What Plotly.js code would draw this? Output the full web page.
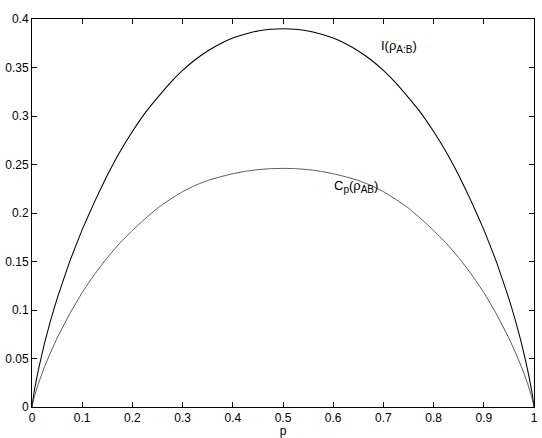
<!DOCTYPE html>
<html>
<head>
<meta charset="utf-8">
<script src="https://cdn.plot.ly/plotly-3.0.1.min.js"></script>
<style>html,body{margin:0;padding:0;background:#fff;}#plot{width:542px;height:438px;}</style>
</head>
<body>
<div id="plot"></div>
<script>
// p values
const pValues = [0, 0.0025, 0.005, 0.0125, 0.025, 0.0375, 0.05, 0.075, 0.1, 0.125, 0.15, 0.175, 0.2, 0.225, 0.25,
                 0.275, 0.3, 0.325, 0.35, 0.375, 0.4, 0.425, 0.45, 0.475, 0.5,
                 0.525, 0.55, 0.575, 0.6, 0.625, 0.65, 0.675, 0.7, 0.725, 0.75, 0.775, 0.8, 0.825, 0.85, 0.875,
                 0.9, 0.925, 0.95, 0.9625, 0.975, 0.9875, 0.995, 0.9975, 1];
// I(rho_A:B)
const mutualInfo = [0, 0.0098, 0.018, 0.0378, 0.0658, 0.090, 0.1117, 0.1499, 0.1829, 0.2120, 0.239, 0.263, 0.284, 0.303, 0.319,
                    0.334, 0.347, 0.358, 0.367, 0.3745, 0.3803, 0.3846, 0.3877, 0.3894, 0.390,
                    0.3894, 0.3877, 0.3846, 0.3803, 0.3745, 0.367, 0.358, 0.347, 0.334, 0.319, 0.303, 0.284, 0.263, 0.239, 0.2120,
                    0.1829, 0.1499, 0.1117, 0.090, 0.0658, 0.0378, 0.018, 0.0098, 0];
// C_p(rho_AB)
const cpValues = [0, 0.0062, 0.011, 0.0238, 0.0415, 0.0568, 0.071, 0.096, 0.118, 0.137, 0.154, 0.169, 0.182, 0.194, 0.205,
                  0.214, 0.222, 0.2285, 0.2335, 0.2373, 0.2405, 0.2430, 0.2447, 0.2457, 0.246,
                  0.2457, 0.2447, 0.2430, 0.2405, 0.2373, 0.2335, 0.2285, 0.222, 0.214, 0.205, 0.194, 0.182, 0.169, 0.154, 0.137,
                  0.118, 0.096, 0.071, 0.0568, 0.0415, 0.0238, 0.011, 0.0062, 0];
const xTicks = [0, 0.1, 0.2, 0.3, 0.4, 0.5, 0.6, 0.7, 0.8, 0.9, 1];
const xTickText = ["0", "0.1", "0.2", "0.3", "0.4", "0.5", "0.6", "0.7", "0.8", "0.9", "1"];
const yTicks = [0, 0.05, 0.1, 0.15, 0.2, 0.25, 0.3, 0.35, 0.4];
const yTickText = ["0", "0.05", "0.1", "0.15", "0.2", "0.25", "0.3", "0.35", "0.4"];
const labelI = "I(ρ<sub><span style=\"font-size:10px\">A:B</span></sub>)";
const labelC = "C<sub><span style=\"font-size:10px\">p</span></sub>(ρ<sub><span style=\"font-size:10px\">AB</span></sub>)";

const font = {family: "Liberation Sans, Arial, sans-serif", size: 12, color: "#000"};
const annFont = {family: "Liberation Sans, Arial, sans-serif", size: 13, color: "#000"};
const traces = [
  {x: pValues, y: mutualInfo, mode: "lines", line: {color: "#000", width: 1.05, shape: "spline", smoothing: 0.3}, hoverinfo: "none"},
  {x: pValues, y: cpValues, mode: "lines", line: {color: "#444", width: 0.9, shape: "spline", smoothing: 0.3}, hoverinfo: "none"}
];
const axisCommon = {
  showgrid: false, zeroline: false, showline: true, linecolor: "#000", linewidth: 1,
  mirror: "ticks", ticks: "inside", ticklen: 5, tickcolor: "#000", tickwidth: 1,
  tickfont: font
};
const layout = {
  width: 542, height: 438,
  margin: {l: 32, r: 8, t: 19, b: 31},
  paper_bgcolor: "#fff", plot_bgcolor: "#fff",
  showlegend: false,
  font: font,
  xaxis: Object.assign({}, axisCommon, {range: [0, 1], tickvals: xTicks, ticktext: xTickText,
    title: {text: "p", font: font, standoff: 2}}),
  yaxis: Object.assign({}, axisCommon, {range: [0, 0.4], tickvals: yTicks, ticktext: yTickText}),
  annotations: [
    {x: 0.692, y: 0.372, xref: "x", yref: "y", text: labelI, showarrow: false, xanchor: "left", yanchor: "middle", font: annFont},
    {x: 0.598, y: 0.227, xref: "x", yref: "y", text: labelC, showarrow: false, xanchor: "left", yanchor: "middle", font: annFont}
  ]
};
Plotly.newPlot("plot", traces, layout, {staticPlot: true, displayModeBar: false});
</script>
</body>
</html>
